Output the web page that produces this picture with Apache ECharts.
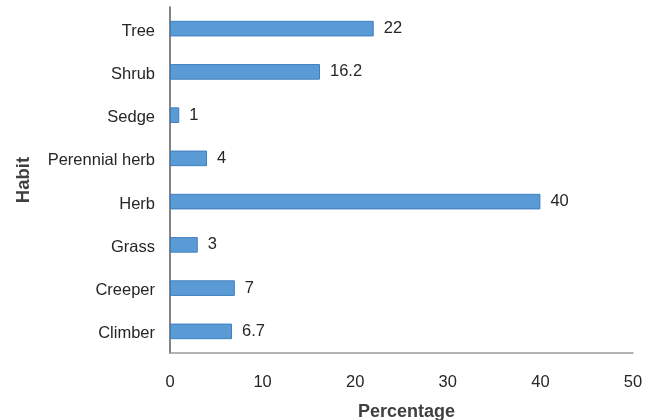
<!DOCTYPE html>
<html>
<head>
<meta charset="utf-8">
<script src="https://cdn.jsdelivr.net/npm/echarts@6/dist/echarts.min.js"></script>
<style>
  html, body { margin: 0; padding: 0; background: #ffffff; }
  #chart { width: 654px; height: 420px; }
</style>
</head>
<body>
<div id="chart"></div>
<script>
// Growth habit categories, listed bottom to top
const habits = ['Climber', 'Creeper', 'Grass', 'Herb', 'Perennial herb', 'Sedge', 'Shrub', 'Tree'];
// Share of species per habit (%)
const percentages = [6.7, 7, 3, 40, 4, 1, 16.2, 22];
// Value axis ticks
const xTicks = [0, 10, 20, 30, 40, 50];

const fontFamily = '"Liberation Sans", Arial, sans-serif';
const chart = echarts.init(document.getElementById('chart'));
chart.setOption({
  animation: false,
  grid: { left: 170, right: 21, top: 7, bottom: 67, containLabel: false, outerBoundsMode: 'none' },
  xAxis: {
    type: 'value',
    min: xTicks[0],
    max: xTicks[xTicks.length - 1],
    interval: xTicks[1] - xTicks[0],
    name: 'Percentage',
    nameLocation: 'middle',
    nameGap: 50,
    nameTextStyle: { fontFamily, fontSize: 18, fontWeight: 'bold', color: '#404040', padding: [0, 0, 0, 10] },
    axisLine: { show: true, lineStyle: { color: '#9a9a9a', width: 1.5 } },
    axisTick: { show: false },
    splitLine: { show: false },
    axisLabel: { fontFamily, fontSize: 16.5, color: '#262626', margin: 21 }
  },
  yAxis: {
    type: 'category',
    data: habits,
    name: 'Habit',
    nameLocation: 'middle',
    nameGap: 137,
    nameRotate: 90,
    nameTextStyle: { fontFamily, fontSize: 18.5, fontWeight: 'bold', color: '#404040' },
    axisLine: { show: true, lineStyle: { color: '#595959', width: 1.5 } },
    axisTick: { show: false },
    axisLabel: {
      fontFamily, fontSize: 16.5, color: '#262626', margin: 15,
      formatter: '{c|{value}}',
      rich: { c: { fontFamily, fontSize: 16.5, color: '#262626', padding: [5, 0, 0, 0] } }
    }
  },
  series: [{
    type: 'bar',
    data: percentages,
    barCategoryGap: '64%',
    itemStyle: { color: '#5B9BD5', borderColor: '#3F7FBF', borderWidth: 1 },
    label: {
      show: true,
      position: 'right',
      distance: 10,
      fontFamily,
      fontSize: 16.5,
      color: '#262626'
    }
  }]
});
</script>
</body>
</html>
